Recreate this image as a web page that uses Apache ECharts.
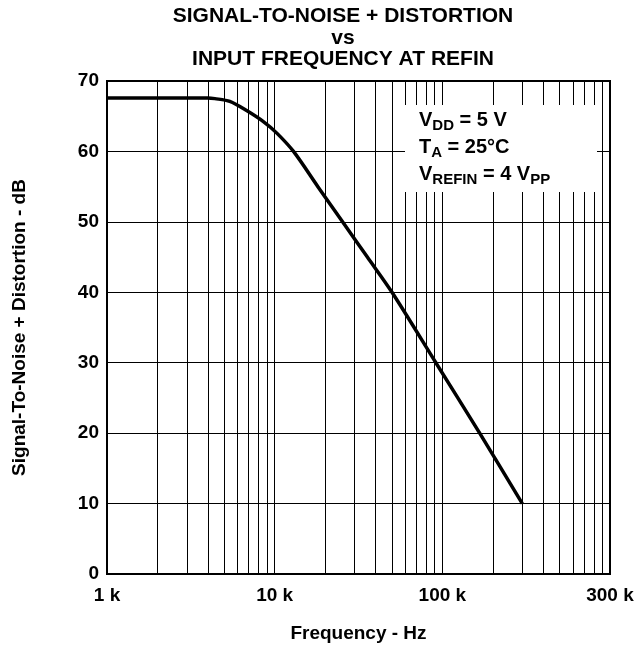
<!DOCTYPE html>
<html>
<head>
<meta charset="utf-8">
<title>SNR + Distortion vs Input Frequency</title>
<script src="https://cdn.jsdelivr.net/npm/echarts@6/dist/echarts.min.js"></script>
<style>
  html, body { margin: 0; padding: 0; background: #fff; }
  #chart { width: 642px; height: 648px; }
</style>
</head>
<body>
<div id="chart"></div>
<script>
// curve
var freqHz = [1000, 2000, 3000, 4000, 4400, 5400, 6800, 8600, 10300, 12950, 18100, 25400, 35700, 50100, 91500, 167000, 300000];
var snrDb  = [67.6, 67.6, 67.6, 67.6, 67.5, 67.1, 65.8, 64.2, 62.6, 60.0, 55.0, 50.0, 45.0, 40.0, 30.0, 20.0, 10.0];

// x tick labels (the datasheet labels the right edge "300 k")
var xTickValues = [1000, 10000, 100000, 1000000];
var xTickLabels = ['1 k', '10 k', '100 k', '300 k'];

// minor log grid lines 2..9 in each decade
var minorGrid = [];
[1000, 10000, 100000].forEach(function (dec) {
  for (var m = 2; m <= 9; m++) minorGrid.push(dec * m);
});

var FONT = '"Liberation Sans", Arial, Helvetica, sans-serif';

var chart = echarts.init(document.getElementById('chart'));

var points = [];
for (var i = 0; i < freqHz.length; i++) points.push([freqHz[i], snrDb[i]]);

var option = {
  animation: false,
  backgroundColor: '#fff',
  textStyle: { fontFamily: FONT, color: '#000' },
  grid: {
    left: 107, right: 32, top: 81, bottom: 66,
    show: true, borderColor: '#000', borderWidth: 2
  },
  xAxis: {
    type: 'log',
    logBase: 10,
    min: 1000,
    max: 1000000,
    name: 'Frequency - Hz',
    nameLocation: 'middle',
    nameGap: 50,
    nameTextStyle: { fontFamily: FONT, fontWeight: 'bold', fontSize: 19, color: '#000' },
    axisLine: { show: true, lineStyle: { color: '#000', width: 2 } },
    axisTick: { show: false },
    splitLine: { show: true, lineStyle: { color: '#000', width: 1 } },
    axisLabel: {
      margin: 12,
      fontFamily: FONT, fontWeight: 'bold', fontSize: 19, color: '#000',
      formatter: function (v) {
        var k = xTickValues.indexOf(Math.round(v));
        return k >= 0 ? xTickLabels[k] : '';
      }
    }
  },
  yAxis: {
    type: 'value',
    min: 0,
    max: 70,
    interval: 10,
    name: 'Signal-To-Noise + Distortion - dB',
    nameLocation: 'middle',
    nameGap: 78,
    nameRotate: 90,
    nameTextStyle: { fontFamily: FONT, fontWeight: 'bold', fontSize: 19, color: '#000' },
    axisLine: { show: true, lineStyle: { color: '#000', width: 2 } },
    axisTick: { show: false },
    splitLine: { show: true, lineStyle: { color: '#000', width: 1 } },
    axisLabel: { margin: 8, fontFamily: FONT, fontWeight: 'bold', fontSize: 19, color: '#000' }
  },
  series: [{
    type: 'line',
    data: points,
    smooth: 0.3,
    symbol: 'none',
    lineStyle: { color: '#000', width: 3.5 },
    z: 5,
    markLine: {
      silent: true,
      symbol: 'none',
      label: { show: false },
      lineStyle: { color: '#000', width: 1, type: 'solid' },
      z: 1,
      data: minorGrid.map(function (f) { return { xAxis: f }; })
    }
  }],
  graphic: [
    // title
    { type: 'text', x: 343, y: 16, z: 100, style: { text: 'SIGNAL-TO-NOISE + DISTORTION', font: 'bold 21px ' + FONT, fill: '#000', align: 'center', verticalAlign: 'middle' } },
    { type: 'text', x: 343, y: 38, z: 100, style: { text: 'vs', font: 'bold 21px ' + FONT, fill: '#000', align: 'center', verticalAlign: 'middle' } },
    { type: 'text', x: 343, y: 59, z: 100, style: { text: 'INPUT FREQUENCY AT REFIN', font: 'bold 21px ' + FONT, fill: '#000', align: 'center', verticalAlign: 'middle' } },
    // conditions box
    { type: 'rect', z: 100, shape: { x: 405, y: 105, width: 192, height: 87 }, style: { fill: '#fff' } },
    {
      type: 'text', x: 419, y: 107, z: 101,
      style: {
        text: '{m|V}{s|DD}{m| = 5 V}\n{m|T}{s|A}{m| = 25°C}\n{m|V}{s|REFIN}{m| = 4 V}{s|PP}',
        fill: '#000',
        verticalAlign: 'top',
        rich: {
          m: { fontFamily: FONT, fontWeight: 'bold', fontSize: 20, lineHeight: 27, fill: '#000' },
          s: { fontFamily: FONT, fontWeight: 'bold', fontSize: 15, lineHeight: 16, padding: [11, 0, 0, 0], fill: '#000' }
        }
      }
    }
  ]
};

chart.setOption(option);
</script>
</body>
</html>
